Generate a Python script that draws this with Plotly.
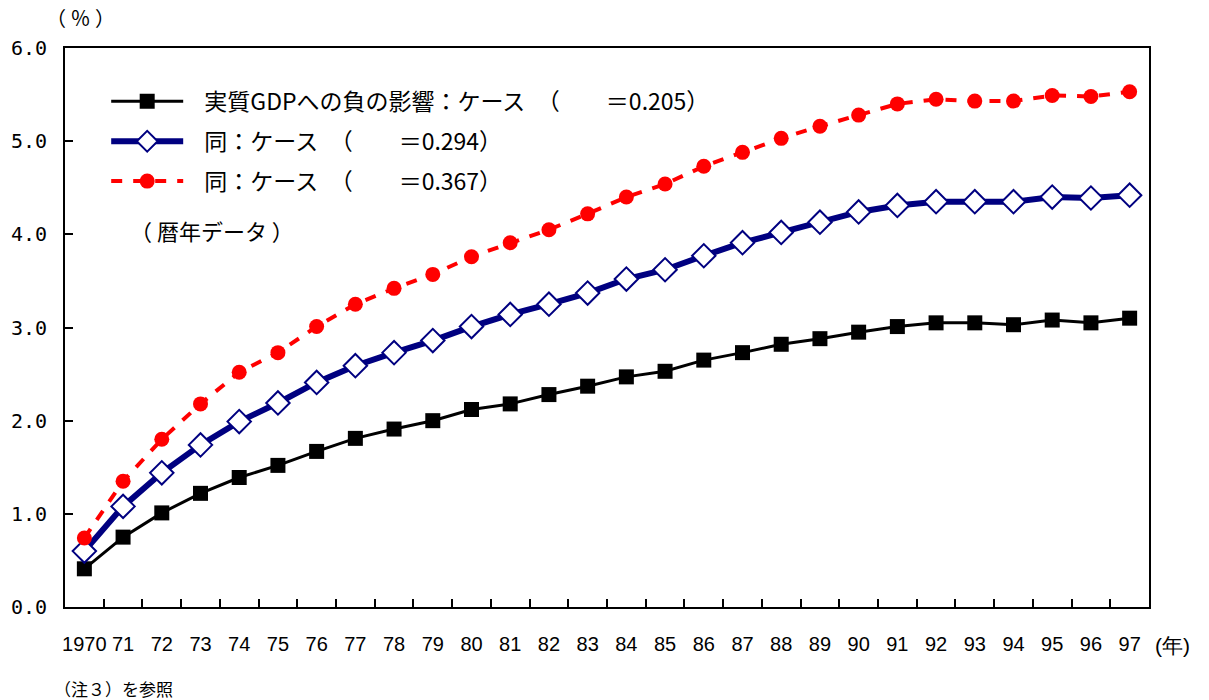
import plotly.graph_objects as go

years = ["1970", "71", "72", "73", "74", "75", "76", "77", "78", "79", "80", "81", "82", "83",
         "84", "85", "86", "87", "88", "89", "90", "91", "92", "93", "94", "95", "96", "97"]

case1 = [0.41, 0.75, 1.01, 1.22, 1.39, 1.52, 1.67, 1.81, 1.91, 2.00, 2.12, 2.18, 2.28, 2.37,
         2.47, 2.53, 2.65, 2.73, 2.82, 2.88, 2.95, 3.01, 3.05, 3.05, 3.03, 3.08, 3.05, 3.10]
case2 = [0.60, 1.08, 1.44, 1.74, 1.99, 2.19, 2.41, 2.59, 2.73, 2.86, 3.01, 3.14, 3.25, 3.37,
         3.52, 3.62, 3.77, 3.91, 4.02, 4.13, 4.24, 4.31, 4.35, 4.35, 4.35, 4.40, 4.39, 4.42]
case3 = [0.74, 1.35, 1.80, 2.18, 2.52, 2.73, 3.01, 3.25, 3.42, 3.57, 3.76, 3.91, 4.05, 4.22,
         4.40, 4.54, 4.73, 4.88, 5.03, 5.16, 5.28, 5.40, 5.45, 5.43, 5.43, 5.49, 5.48, 5.53]

names = ["実質GDPへの負の影響：ケース　（　　＝0.205）",
         "同：ケース　（　　＝0.294）",
         "同：ケース　（　　＝0.367）"]

yticks = [0, 1, 2, 3, 4, 5, 6]
ytick_text = ["0.0", "1.0", "2.0", "3.0", "4.0", "5.0", "6.0"]

JP = "Noto Sans CJK JP"
PAD = "\u2002\u2009"

fig = go.Figure()
fig.add_trace(go.Scatter(
    x=years, y=case1, name=PAD + names[0], mode="lines+markers", legendgroup="a",
    line=dict(color="black", width=3),
    marker=dict(symbol="square", size=15, color="black"),
))
fig.add_trace(go.Scatter(
    x=years, y=case2, name=PAD + names[1], mode="lines+markers", legendgroup="b",
    line=dict(color="#000080", width=6),
    marker=dict(symbol="diamond", size=18, color="white", line=dict(color="#000080", width=2)),
))
fig.add_trace(go.Scatter(
    x=years, y=case3, name=PAD + names[2], mode="lines+markers", legendgroup="c",
    line=dict(color="#ff0000", width=4, dash="11px,11px"),
    marker=dict(symbol="circle", size=15, color="#ff0000"),
))

fig.update_layout(
    width=1209, height=700,
    margin=dict(l=65, r=60, t=48, b=93),
    paper_bgcolor="white", plot_bgcolor="white",
    font=dict(family=JP, size=20, color="black"),
    showlegend=True,
    legend=dict(
        x=0.038, y=0.943, xanchor="left", yanchor="top",
        bgcolor="rgba(0,0,0,0)", borderwidth=0,
        font=dict(family=JP, size=23, color="black"),
        itemwidth=72, traceorder="grouped", tracegroupgap=7,
    ),
    xaxis=dict(
        type="category", range=[-0.5, 27.5], automargin=False, tickangle=0,
        showline=True, linecolor="black", linewidth=2, mirror=True,
        ticks="inside", tickson="boundaries", ticklen=8, tickcolor="black", tickwidth=1.5,
        showgrid=False, zeroline=False,
        tickfont=dict(family="Liberation Sans", size=20, color="black"),
        ticklabelstandoff=18,
    ),
    yaxis=dict(
        range=[0, 6], tickvals=yticks, ticktext=ytick_text, automargin=False,
        showline=True, linecolor="black", linewidth=2, mirror=True,
        ticks="inside", ticklen=8, tickcolor="black", tickwidth=1.5,
        showgrid=False, zeroline=False,
        tickfont=dict(family="DejaVu Sans Mono", size=20, color="black"),
        ticklabelstandoff=12,
    ),
    annotations=[
        dict(text="（ ％ ）", xref="paper", yref="paper", x=0.014, y=1.054,
             xanchor="center", yanchor="middle", showarrow=False,
             font=dict(family=JP, size=20)),
        dict(text="(年)", xref="paper", yref="paper", x=1.004, y=-0.068,
             xanchor="left", yanchor="middle", showarrow=False,
             font=dict(family="Liberation Sans", size=21)),
        dict(text="（注３）を参照", xref="paper", yref="paper", x=-0.012, y=-0.145,
             xanchor="left", yanchor="middle", showarrow=False,
             font=dict(family=JP, size=17)),
        dict(text="（ 暦年データ ）", xref="paper", yref="paper", x=0.058, y=0.674,
             xanchor="left", yanchor="middle", showarrow=False,
             font=dict(family=JP, size=22)),
    ],
)

fig.write_html("out.html", config={"displayModeBar": False},
               post_script="document.body.style.margin='0';")
